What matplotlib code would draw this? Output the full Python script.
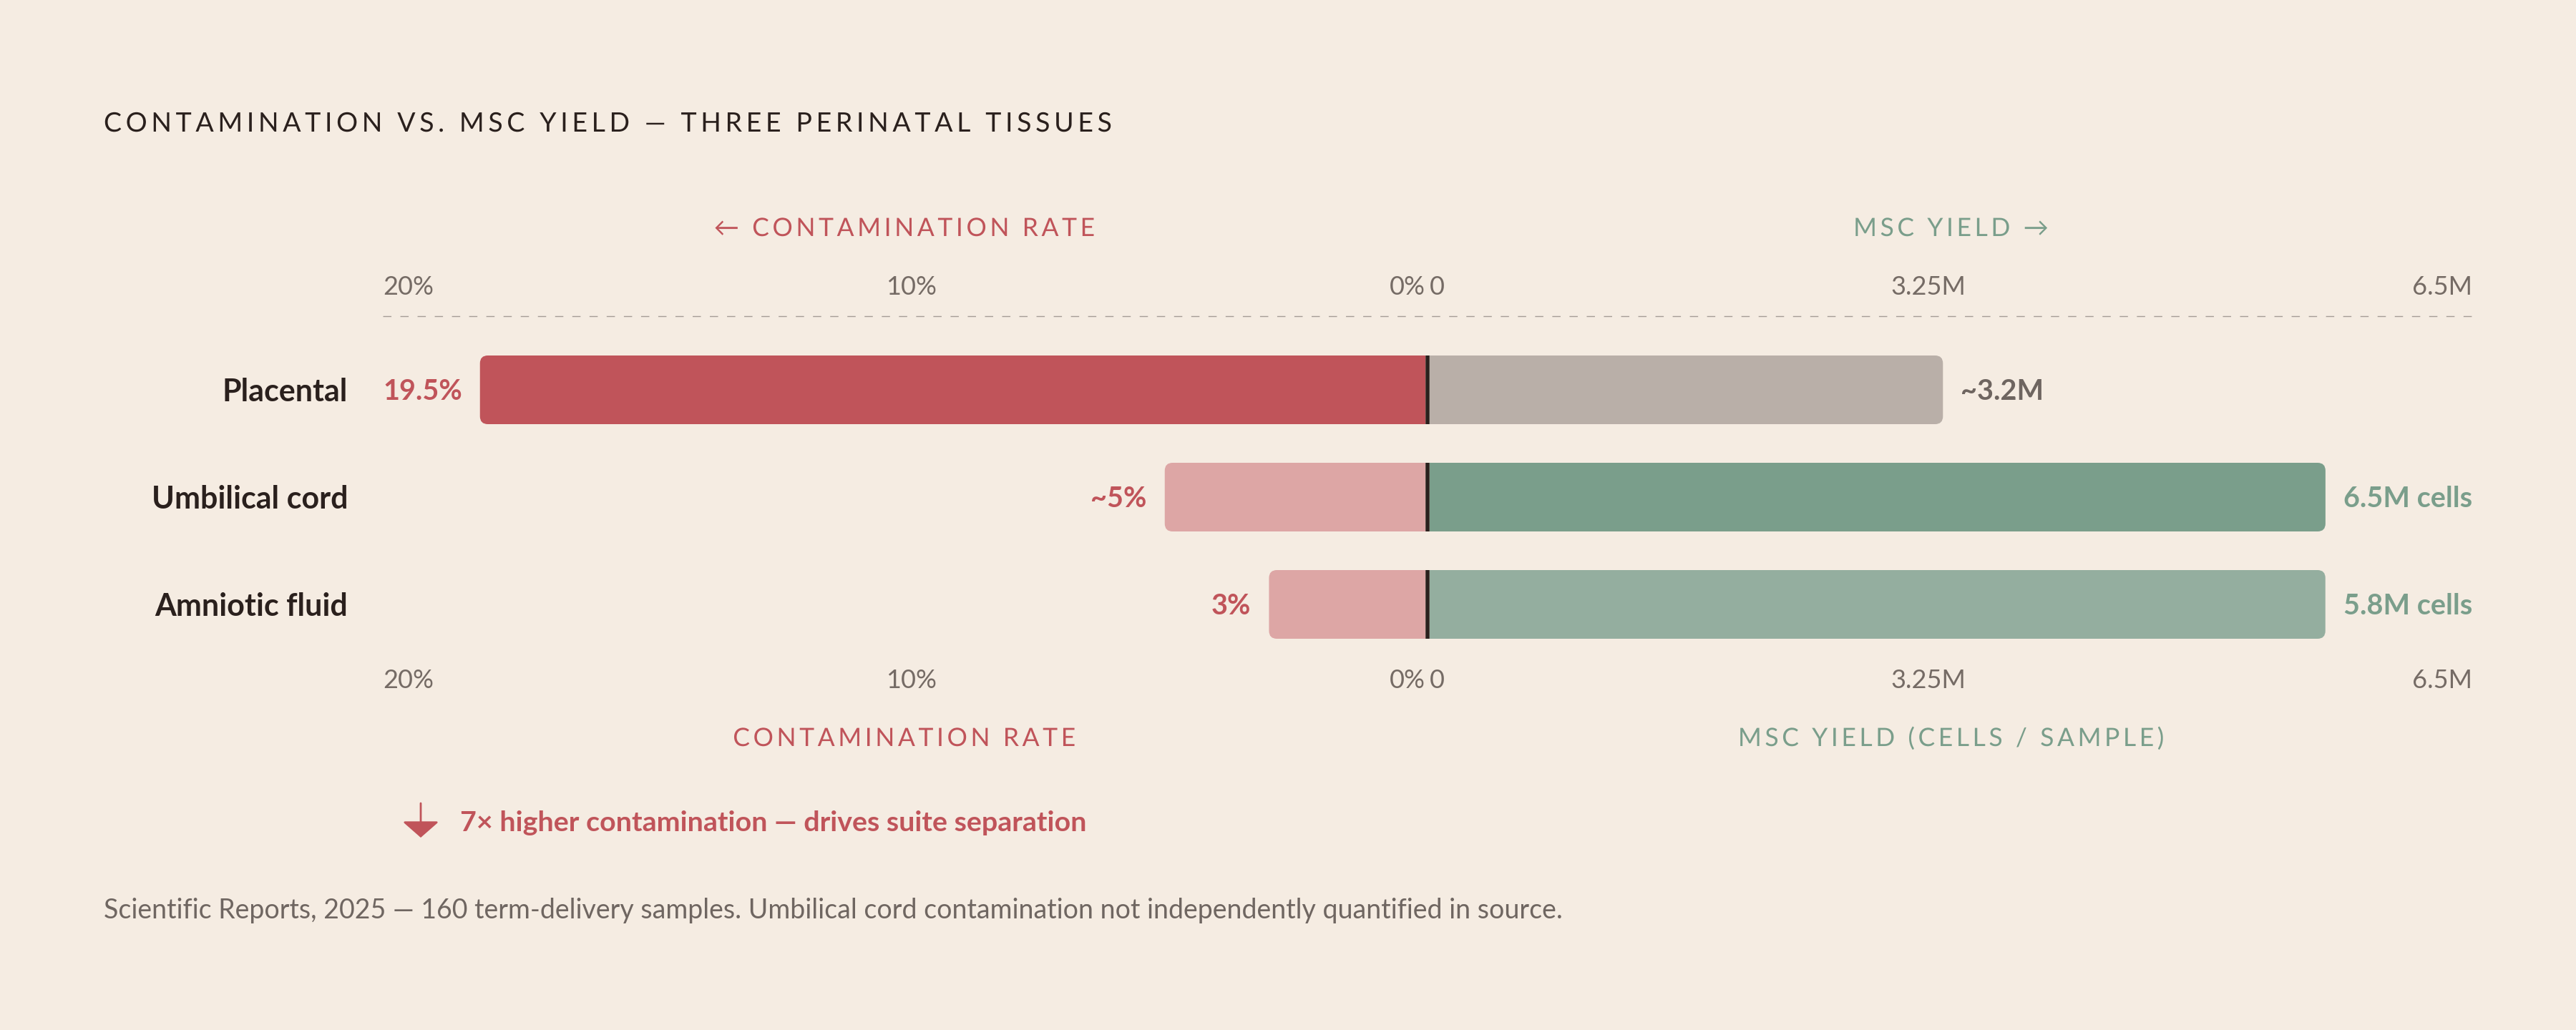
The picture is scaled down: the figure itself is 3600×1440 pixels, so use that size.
import numpy as np
import matplotlib
matplotlib.use("Agg")
import matplotlib.pyplot as plt
from matplotlib.patches import FancyBboxPatch, Rectangle, FancyArrowPatch
from matplotlib.lines import Line2D
from matplotlib.path import Path
from matplotlib.patheffects import AbstractPathEffect
from matplotlib.textpath import text_to_path
from matplotlib import transforms as mtrans

# ---------------- data ----------------
tissues = ["Placental", "Umbilical cord", "Amniotic fluid"]
contamination_pct = [19.5, 5.0, 3.0]
contamination_labels = ["19.5%", "~5%", "3%"]
msc_yield_m = [3.2, 6.5, 5.8]
yield_labels = ["~3.2M", "6.5M cells", "5.8M cells"]
contam_ticks = [20, 10, 0]
contam_tick_labels = ["20%", "10%", "0%"]
yield_ticks = [0, 3.25, 6.5]
yield_tick_labels = ["0", "3.25M", "6.5M"]
contam_max = 20.0
yield_max = 6.5

title = "CONTAMINATION VS. MSC YIELD \u2014 THREE PERINATAL TISSUES"
top_left_title = "\u2190 CONTAMINATION RATE"
top_right_title = "MSC YIELD \u2192"
bottom_left_title = "CONTAMINATION RATE"
bottom_right_title = "MSC YIELD (CELLS / SAMPLE)"
callout = "7\u00d7 higher contamination \u2014 drives suite separation"
footnote = ("Scientific Reports, 2025 \u2014 160 term-delivery samples. "
            "Umbilical cord contamination not independently quantified in source.")

# ---------------- style ----------------
BG = "#F5ECE2"
RED = "#C0545A"
PINK = "#DDA6A5"
TAUPE = "#B9AFA8"
GREEN = "#7A9E8B"
GREEN_L = "#94AE9F"
DARK = "#2A201D"
GRAY = "#756B65"
GRAY_B = "#6E6560"
DASH = "#A69D96"

contam_colors = [RED, PINK, PINK]
yield_colors = [TAUPE, GREEN, GREEN_L]
yield_label_colors = [GRAY_B, GREEN, GREEN]

plt.rcParams["font.family"] = ["Lato", "DejaVu Sans"]

W, H, DPI = 3600, 1440, 100
fig = plt.figure(figsize=(W / DPI, H / DPI), dpi=DPI, facecolor=BG)


def fx(px):
    return px / W


def fy(py):
    return 1 - py / H


class Tracking(AbstractPathEffect):
    """Render a Text with extra letter spacing (em units)."""

    def __init__(self, text_artist, em, align_frac=0.0):
        super().__init__()
        self.text = text_artist
        self.em = em
        self.align_frac = align_frac

    def draw_path(self, renderer, gc, tpath, affine, rgbFace=None):
        path = tpath
        try:
            s = self.text.get_text()
            prop = self.text.get_fontproperties()
            font = text_to_path._get_font(prop)
            info, gmap, _ = text_to_path.get_glyphs_with_font(font, s)
            trk = self.em * text_to_path.FONT_SCALE
            n = len(info)
            shift = -self.align_frac * trk * (n - 1)
            verts, codes = [], []
            for i, (gid, x, y, sc) in enumerate(info):
                v, c = gmap[gid]
                if len(v) == 0:
                    continue
                verts.extend(np.asarray(v) * sc + [x + i * trk + shift, y])
                codes.extend(c)
            if verts:
                path = Path(np.asarray(verts), np.asarray(codes))
        except Exception:
            path = tpath
        renderer.draw_path(gc, path, affine, rgbFace)


def tracked(x, y, s, em, align_frac=0.0, **kw):
    t = fig.text(x, y, s, **kw)
    t.set_path_effects([Tracking(t, em, align_frac)])
    return t


# axes geometry (pixels)
AX_TOP, AX_BOT = 470, 920
L_X0, HALF_W = 535, 1457
R_X0 = L_X0 + HALF_W + 6
ROW_PX = (AX_BOT - AX_TOP) / len(tissues)
BAR_H = 0.64
GAP = 25
RADIUS_PX = 11

axL = fig.add_axes([fx(L_X0), fy(AX_BOT), HALF_W / W, (AX_BOT - AX_TOP) / H])
axR = fig.add_axes([fx(R_X0), fy(AX_BOT), HALF_W / W, (AX_BOT - AX_TOP) / H])
for ax in (axL, axR):
    ax.set_ylim(len(tissues) - 0.5, -0.5)
    ax.axis("off")
    ax.patch.set_alpha(0)
axL.set_xlim(contam_max, 0)
axR.set_xlim(0, yield_max)

renderer = fig.canvas.get_renderer()
rows = np.arange(len(tissues))

pxL = HALF_W / contam_max
pxR = HALF_W / yield_max
y_per_px = 1.0 / ROW_PX


def rounded_bar(ax, i, value, color, px_per_unit):
    r = RADIUS_PX / px_per_unit
    asp = (RADIUS_PX * y_per_px) / r
    y0 = i - BAR_H / 2
    ax.add_patch(FancyBboxPatch((0, y0), value, BAR_H,
                                boxstyle=f"round,pad=0,rounding_size={r}",
                                mutation_aspect=asp, facecolor=color,
                                edgecolor="none", linewidth=0))
    ax.add_patch(Rectangle((0, y0), value / 2, BAR_H, facecolor=color,
                           edgecolor="none", linewidth=0))


VAL_FS = 28.5
VAL_OFF = -14

# contamination side (bars leave room for their label inside the scale)
for i in rows:
    t = axL.text(0, i, contamination_labels[i], ha="right", va="baseline",
                 fontsize=VAL_FS, fontweight="bold", color=RED,
                 transform=mtrans.offset_copy(axL.transData, fig, x=-GAP,
                                              y=VAL_OFF, units="dots"))
    w = t.get_window_extent(renderer).width
    vmax = contam_max - (w + GAP) / pxL
    vb = min(contamination_pct[i], vmax)
    t.set_position((vb, i))
    rounded_bar(axL, i, vb, contam_colors[i], pxL)

# yield side
for i in rows:
    t = axR.text(0, i, yield_labels[i], ha="left", va="baseline",
                 fontsize=VAL_FS, fontweight="bold", color=yield_label_colors[i],
                 transform=mtrans.offset_copy(axR.transData, fig, x=GAP,
                                              y=VAL_OFF, units="dots"))
    w = t.get_window_extent(renderer).width
    vmax = yield_max - (w + GAP) / pxR
    vb = min(msc_yield_m[i], vmax)
    t.set_position((vb, i))
    rounded_bar(axR, i, vb, yield_colors[i], pxR)

# zero divider per row
axR.vlines(np.zeros(len(rows)), rows - BAR_H / 2, rows + BAR_H / 2,
           colors=DARK, linewidth=4.0, clip_on=False, zorder=5,
           transform=mtrans.offset_copy(axR.transData, fig, x=-3, units="dots"))

# category labels
cat_tr = mtrans.offset_copy(
    mtrans.blended_transform_factory(fig.transFigure, axL.transData),
    fig, y=-16, units="dots")
for i in rows:
    fig.text(fx(486), i, tissues[i], ha="right", va="baseline",
             fontsize=31, fontweight="bold", color=DARK, transform=cat_tr)


# tick labels (space-between layout)
def tick_row(ax, ticks, labels, y_px):
    tr = mtrans.blended_transform_factory(ax.transData, fig.transFigure)
    tl = fig.text(ticks[0], fy(y_px), labels[0], ha="left", va="baseline",
                  fontsize=26, color=GRAY, transform=tr)
    trt = fig.text(ticks[-1], fy(y_px), labels[-1], ha="right", va="baseline",
                   fontsize=26, color=GRAY, transform=tr)
    e1 = tl.get_window_extent(renderer)
    e2 = trt.get_window_extent(renderer)
    cx = (e1.x1 + e2.x0) / 2
    fig.text(cx / W, fy(y_px), labels[1], ha="center", va="baseline",
             fontsize=26, color=GRAY)


for ypx in (412, 962):
    tick_row(axL, contam_ticks, contam_tick_labels, ypx)
    tick_row(axR, yield_ticks, yield_tick_labels, ypx)

# dashed rule under top ticks
x_start = axL.get_position().x0
x_end = axR.get_position().x1
fig.add_artist(Line2D([x_start, x_end], [fy(442), fy(442)], color=DASH,
                      linewidth=1.0, linestyle=(0, (8.3, 9.0)),
                      transform=fig.transFigure))

# axis titles
for ax, txt_top, txt_bot, col in ((axL, top_left_title, bottom_left_title, RED),
                                  (axR, top_right_title, bottom_right_title, GREEN)):
    tr = mtrans.blended_transform_factory(ax.transAxes, fig.transFigure)
    tracked(0.5, fy(330), txt_top, 0.13, 0.5, ha="center", va="baseline",
            fontsize=25.5, color=col, transform=tr)
    tracked(0.5, fy(1043), txt_bot, 0.13, 0.5, ha="center", va="baseline",
            fontsize=25.5, color=col, transform=tr)

# title
tracked(fx(145), fy(184), title, 0.15, 0.0, ha="left", va="baseline",
        fontsize=27, color=DARK)

# callout
fig.add_artist(FancyArrowPatch((fx(588), fy(1123)), (fx(588), fy(1171)),
                               transform=fig.transFigure,
                               arrowstyle="-|>,head_length=14,head_width=16",
                               mutation_scale=1, color=RED, linewidth=2.0,
                               shrinkA=0, shrinkB=0))
fig.text(fx(643), fy(1162), callout, ha="left", va="baseline", fontsize=28.4,
         fontweight="bold", color=RED)

# footnote
fig.text(fx(145), fy(1284), footnote, ha="left", va="baseline", fontsize=27,
         color="#6F6661")

fig.savefig("out.png", dpi=DPI, facecolor=BG)
